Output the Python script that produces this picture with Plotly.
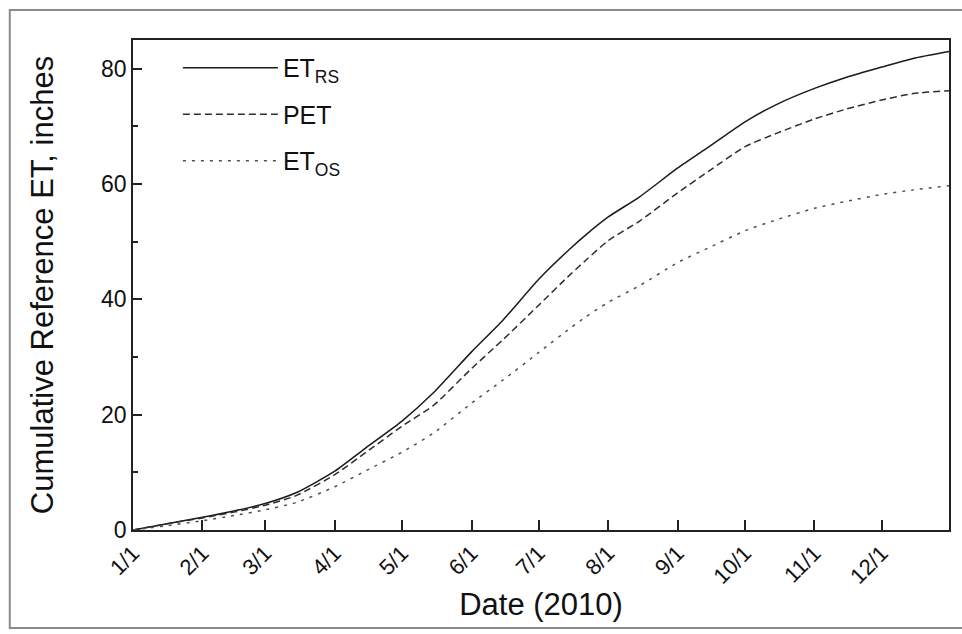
import plotly.graph_objects as go

dates = ["2010-01-01", "2010-01-15", "2010-02-01", "2010-02-15", "2010-03-01", "2010-03-15",
         "2010-04-01", "2010-04-15", "2010-05-01", "2010-05-15", "2010-06-01", "2010-06-15",
         "2010-07-01", "2010-07-15", "2010-07-22", "2010-08-01", "2010-08-15", "2010-09-01",
         "2010-09-15", "2010-10-01", "2010-10-15", "2010-11-01", "2010-11-15", "2010-12-01",
         "2010-12-15", "2010-12-31"]

et_rs = [0.0, 1.0, 2.2, 3.3, 4.6, 6.5, 10.2, 14.3, 18.9, 23.8, 30.9, 36.4,
         43.5, 48.8, 51.2, 54.3, 57.8, 62.8, 66.5, 70.8, 73.8, 76.6, 78.5, 80.3,
         81.8, 83.0]

pet = [0.0, 1.0, 2.1, 3.1, 4.3, 6.0, 9.6, 13.5, 18.0, 21.6, 28.0, 33.0,
       39.0, 44.3, 46.8, 50.2, 53.6, 58.5, 62.3, 66.5, 68.8, 71.3, 73.0, 74.6,
       75.7, 76.2]

et_os = [0.0, 0.7, 1.6, 2.5, 3.5, 4.8, 7.5, 10.3, 13.5, 16.8, 22.0, 26.0,
         30.8, 35.0, 37.0, 39.5, 42.4, 46.4, 49.0, 51.9, 53.8, 55.8, 57.0, 58.2,
         59.0, 59.7]

series_names = ["ET<sub>RS</sub>", "PET", "ET<sub>OS</sub>"]
y_ticks = [0, 20, 40, 60, 80]

FONT = "Arial, Liberation Sans, sans-serif"

fig = go.Figure()
fig.add_trace(go.Scatter(x=dates, y=et_rs, mode="lines", name=series_names[0],
                         legendgroup="a", line_shape="spline",
                         line=dict(color="#1a1a1a", width=1.5, dash="solid", smoothing=0.6)))
fig.add_trace(go.Scatter(x=dates, y=pet, mode="lines", name=series_names[1],
                         legendgroup="b", line_shape="spline",
                         line=dict(color="#2e2e2e", width=1.5, dash="7px,4px", smoothing=0.6)))
fig.add_trace(go.Scatter(x=dates, y=et_os, mode="lines", name=series_names[2],
                         legendgroup="c", line_shape="spline",
                         line=dict(color="#505050", width=1.5, dash="3px,6px", smoothing=0.6)))

fig.update_layout(
    width=962, height=634,
    margin=dict(l=133, r=13, t=40, b=104),
    paper_bgcolor="white", plot_bgcolor="white",
    font=dict(family=FONT, color="#111111", size=22),
    showlegend=True,
    legend=dict(x=0.055, y=0.99, xanchor="left", yanchor="top",
                bgcolor="rgba(0,0,0,0)", font=dict(size=25, family=FONT),
                itemwidth=95, tracegroupgap=11, traceorder="grouped"),
    xaxis=dict(
        type="date", range=["2010-01-01", "2010-12-31"],
        dtick="M1", tick0="2010-01-01", tickformat="%-m/%-d",
        tickangle=-45, ticks="inside", ticklen=10, tickwidth=1.5, tickcolor="#222",
        showline=True, linecolor="#222", linewidth=1.5, mirror=True,
        showgrid=False, zeroline=False,
        tickfont=dict(size=22, family=FONT),
        title=dict(text="Date (2010)", font=dict(size=31, family=FONT), standoff=6),
    ),
    yaxis=dict(
        range=[0, 85], tickvals=y_ticks, ticks="inside", ticklen=9, tickwidth=1.5,
        tickcolor="#222",
        minor=dict(dtick=10, tick0=0, ticks="inside", ticklen=5, tickcolor="#222"),
        showline=True, linecolor="#222", linewidth=1.5, mirror=True,
        showgrid=False, zeroline=False,
        tickfont=dict(size=23, family=FONT),
        title=dict(text="Cumulative Reference ET, inches", font=dict(size=31, family=FONT),
                   standoff=38),
    ),
    shapes=[dict(type="rect", xref="paper", yref="paper",
                 x0=-0.151, x1=1.06, y0=-0.2, y1=1.061,
                 line=dict(color="#8a8a8a", width=2), layer="below")],
)

fig.write_html("out.html")
